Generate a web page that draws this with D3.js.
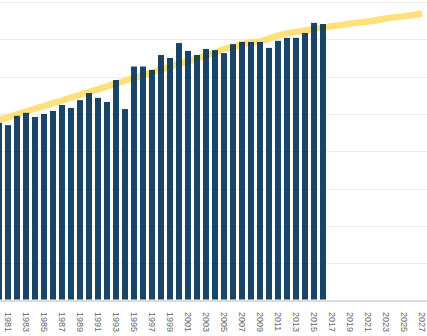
<!DOCTYPE html>
<html>
<head>
<meta charset="utf-8">
<script src="https://cdn.jsdelivr.net/npm/d3@7"></script>
<style>
  html, body { margin: 0; padding: 0; background: #fff; }
  svg { display: block; }
</style>
</head>
<body>
<svg id="chart" width="427" height="336"></svg>
<script>
// ---- data ----
const years = d3.range(1980, 2028);
const barYears = d3.range(1980, 2017);
const barValues = [4.76, 4.70, 4.95, 5.03, 4.92, 5.00, 5.08, 5.24, 5.16, 5.37,
                   5.56, 5.43, 5.32, 5.91, 5.13, 6.27, 6.27, 6.18, 6.58, 6.50,
                   6.90, 6.69, 6.58, 6.74, 6.71, 6.63, 6.87, 6.93, 6.93, 6.93,
                   6.77, 6.96, 7.04, 7.04, 7.17, 7.44, 7.41];
const trendValues = [4.84, 4.91, 4.99, 5.06, 5.14, 5.21, 5.29, 5.36, 5.44, 5.51,
                     5.59, 5.66, 5.74, 5.81, 5.89, 5.96, 6.04, 6.11, 6.19, 6.26,
                     6.34, 6.41, 6.49, 6.56, 6.64, 6.74, 6.79, 6.87, 6.92, 6.94,
                     7.02, 7.10, 7.16, 7.20, 7.24, 7.28, 7.32, 7.35, 7.38, 7.42,
                     7.45, 7.48, 7.51, 7.56, 7.59, 7.62, 7.65, 7.69];
const tickYears = d3.range(1981, 2028, 2);
const gridValues = [1, 2, 3, 4, 5, 6, 7, 8];

// ---- scales ----
const svg = d3.select("#chart");
const x = d3.scaleBand().domain(years).range([-5.5, 426.5])
  .paddingInner(1/3).paddingOuter(1/6);
const y = d3.scaleLinear().domain([0, 8]).range([300.5, 2]);

// gridlines
svg.append("g").selectAll("line").data(gridValues).join("line")
  .attr("x1", 0).attr("x2", 427)
  .attr("y1", d => Math.round(y(d)) + 0.5).attr("y2", d => Math.round(y(d)) + 0.5)
  .attr("stroke", "#ececec").attr("stroke-width", 1);

// trend line
const line = d3.line()
  .x((d, i) => x(years[i]) + x.bandwidth() / 2)
  .y(d => y(d));
svg.append("path").datum(trendValues)
  .attr("d", line)
  .attr("fill", "none")
  .attr("stroke", "#ffe07a")
  .attr("stroke-width", 6.5)
  .attr("stroke-linejoin", "round");

// bars
svg.append("g").selectAll("rect").data(barValues).join("rect")
  .attr("x", (d, i) => x(barYears[i]))
  .attr("width", x.bandwidth())
  .attr("y", d => y(d))
  .attr("height", d => y(0) - y(d) - 1)
  .attr("fill", "#023158")
  .attr("fill-opacity", 0.9);

// x axis
const xAxis = d3.axisBottom(x).tickValues(tickYears).tickSize(0).tickPadding(0);
const gx = svg.append("g").attr("transform", "translate(0,300)").call(xAxis);
gx.select(".domain").remove();
gx.selectAll("text")
  .attr("transform", "rotate(90)")
  .attr("text-anchor", "start")
  .attr("x", 12)
  .attr("y", 0)
  .attr("dy", "0.32em")
  .attr("fill", "#666")
  .style("font-family", "'Liberation Sans', Arial, sans-serif")
  .style("font-size", "9px");
svg.append("line")
  .attr("x1", 0).attr("x2", 427)
  .attr("y1", 301).attr("y2", 301)
  .attr("stroke", "#dcdcdc").attr("stroke-width", 2);
</script>
</body>
</html>
